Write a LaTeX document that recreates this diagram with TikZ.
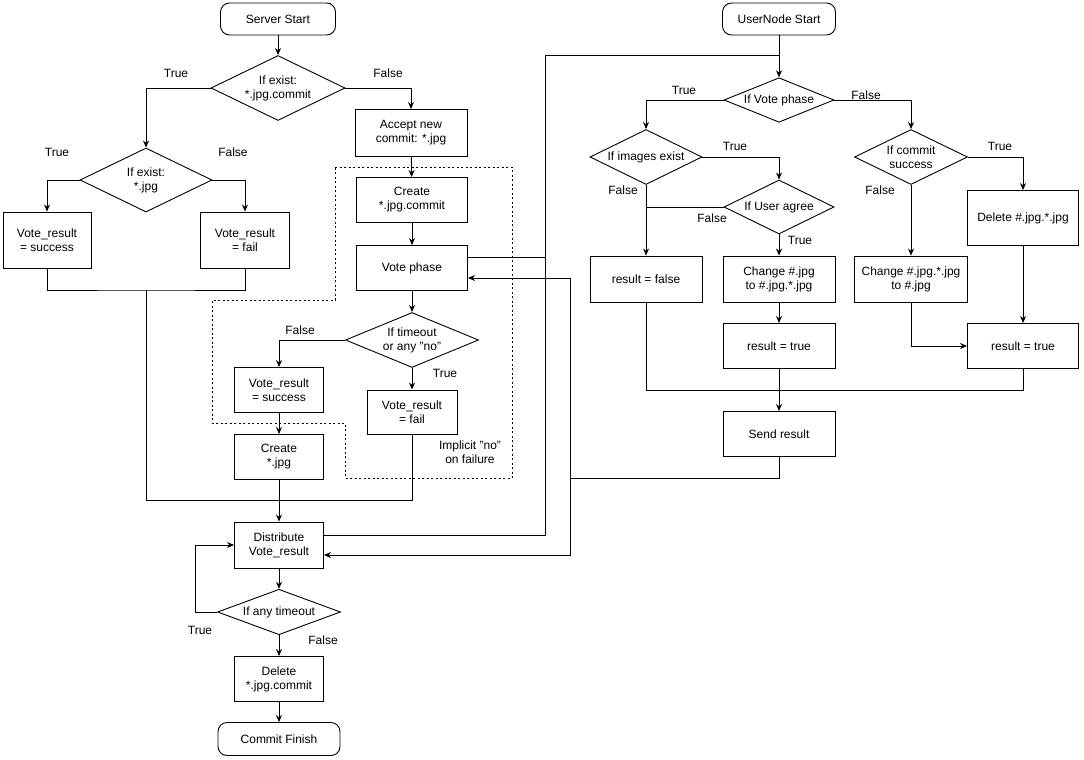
\documentclass[tikz,border=0pt]{standalone}
\usepackage{fontspec}
\setmainfont{Liberation Sans}
\usetikzlibrary{shapes.geometric,arrows.meta}
\begin{document}
\begin{tikzpicture}[x=1pt,y=-1pt,
  every node/.style={font=\fontsize{12}{14}\selectfont, align=center},
  box/.style={draw, line width=0.9pt, inner sep=0pt},
  term/.style={draw, line width=0.9pt, rounded corners=9pt, inner sep=0pt},
  dia/.style={draw, line width=0.9pt, diamond, aspect=2.1, inner sep=0pt},
  lbl/.style={font=\fontsize{12}{14}\selectfont},
  ln/.style={line width=0.9pt},
  ar/.style={line width=0.9pt, -{Stealth[length=7pt,width=6pt]}}]
\useasboundingbox (0,0) rectangle (1084,760);
% left
\node[term, minimum width=115pt, minimum height=32pt] (ss) at (278,19) {Server Start};
\node[dia, minimum width=134pt, minimum height=65pt] (d1) at (278,88) {If exist:\\*.jpg.commit};
\node[dia, minimum width=132pt, minimum height=64pt] (d2) at (146,180) {If exist:\\*.jpg};
\node[box, minimum width=88pt, minimum height=56pt] (vs1) at (47,240) {Vote\_result\\= success};
\node[box, minimum width=89pt, minimum height=56pt] (vf1) at (245,240) {Vote\_result\\= fail};
\node[box, minimum width=112pt, minimum height=47pt] (acc) at (411,133) {Accept new\\commit: *.jpg};
\node[box, minimum width=111pt, minimum height=45pt] (cc) at (412,200) {Create\\*.jpg.commit};
\node[box, minimum width=111pt, minimum height=45pt] (vp) at (412,268) {Vote phase};
\node[dia, minimum width=133pt, minimum height=55pt] (d3) at (412,340) {If timeout\\or any "no"};
\node[box, minimum width=89pt, minimum height=45pt] (vs2) at (279,390) {Vote\_result\\= success};
\node[box, minimum width=90pt, minimum height=44pt] (vf2) at (412,412) {Vote\_result\\= fail};
\node[box, minimum width=89pt, minimum height=45pt] (cj) at (279,457) {Create\\*.jpg};
\node[lbl] (imp) at (470,452) {Implicit "no"\\on failure};
\node[box, minimum width=89pt, minimum height=46pt] (dist) at (279,545) {Distribute\\Vote\_result};
\node[dia, minimum width=123pt, minimum height=43pt] (d4) at (279,612) {If any timeout};
\node[box, minimum width=89pt, minimum height=45pt] (del) at (279,679) {Delete\\*.jpg.commit};
\node[term, minimum width=122pt, minimum height=33pt] (cf) at (279,739) {Commit Finish};
% right
\node[term, minimum width=113pt, minimum height=32pt] (us) at (779,19) {UserNode Start};
\node[dia, minimum width=110pt, minimum height=41pt] (d5) at (779,100) {If Vote phase};
\node[dia, minimum width=112pt, minimum height=55pt] (d6) at (646,157) {If images exist};
\node[dia, minimum width=110pt, minimum height=54pt] (d7) at (779,207) {If User agree};
\node[dia, minimum width=113pt, minimum height=55pt] (d8) at (911,157) {If commit\\success};
\node[box, minimum width=112pt, minimum height=46pt] (rf) at (646,279) {result = false};
\node[box, minimum width=112pt, minimum height=46pt] (ch1) at (779,279) {Change \#.jpg\\to \#.jpg.*.jpg};
\node[box, minimum width=112pt, minimum height=45pt] (rt1) at (779,346) {result = true};
\node[box, minimum width=111pt, minimum height=55pt] (dl2) at (1023,218) {Delete \#.jpg.*.jpg};
\node[box, minimum width=113pt, minimum height=46pt] (ch2) at (911,279) {Change \#.jpg.*.jpg\\to \#.jpg};
\node[box, minimum width=111pt, minimum height=45pt] (rt2) at (1023,346) {result = true};
\node[box, minimum width=112pt, minimum height=45pt] (sr) at (779,434) {Send result};
% labels
\node[lbl] at (176,73) {True};
\node[lbl] at (388,73) {False};
\node[lbl] at (57,152) {True};
\node[lbl] at (233,152) {False};
\node[lbl] at (300,330) {False};
\node[lbl] at (445,373) {True};
\node[lbl] at (200,630) {True};
\node[lbl] at (323,640) {False};
\node[lbl] at (684,90) {True};
\node[lbl] at (866,95) {False};
\node[lbl] at (735,146) {True};
\node[lbl] at (623,190) {False};
\node[lbl] at (712,218) {False};
\node[lbl] at (800,240) {True};
\node[lbl] at (1000,146) {True};
\node[lbl] at (880,190) {False};
% dotted region
\draw[line width=0.9pt, dash pattern=on 2pt off 2.5pt] (335,167) -- (512,167) -- (512,478) -- (345,478) -- (345,423) -- (212,423) -- (212,300) -- (335,300) -- cycle;
% left connectors
\draw[ar] (ss) -- (d1);
\draw[ar] (d1.west) -| (d2.north);
\draw[ar] (d1.east) -| (acc.north);
\draw[ar] (d2.west) -| (vs1.north);
\draw[ar] (d2.east) -| (vf1.north);
\draw[ln] (vs1.south) |- (146,290) -| (vf1.south);
\draw[ln] (146,290) -- (146,500) -- (412,500) -- (vf2.south);
\draw[ar] (acc) -- (cc);
\draw[ar] (cc) -- (vp);
\draw[ar] (vp) -- (d3);
\draw[ar] (d3.west) -| (vs2.north);
\draw[ar] (d3.south) -- (vf2.north);
\draw[ar] (vs2) -- (cj);
\draw[ar] (cj) -- (dist);
\draw[ar] (dist) -- (d4);
\draw[ar] (d4.west) -- (195,612) |- (dist.west);
\draw[ar] (d4) -- (del);
\draw[ar] (del) -- (cf);
% cross connectors
\coordinate (j1) at (545,55);
\draw[ln] (vp.east |- 0,257) -- (545,257);
\draw[ln] (dist.east |- 0,535) -- (545,535) -- (j1) -- (779,55);
\draw[ar] (us) -- (d5);
\draw[ln] (sr.south) -- (779,478) -- (570,478);
\draw[ar] (570,478) -- (570,278) -- (vp.east |- 0,278);
\draw[ar] (570,478) -- (570,555) -- (dist.east |- 0,555);
% right connectors
\draw[ar] (d5.west) -| (d6.north);
\draw[ar] (d5.east) -| (d8.north);
\draw[ar] (d6.east) -| (d7.north);
\draw[ar] (d6.south) -- (rf.north);
\draw[ln] (d7.west) -- (646,207);
\draw[ar] (d7.south) -- (ch1.north);
\draw[ar] (ch1) -- (rt1);
\draw[ar] (d8.east) -| (dl2.north);
\draw[ar] (d8.south) -- (ch2.north);
\draw[ar] (ch2.south) |- (rt2.west);
\draw[ar] (dl2) -- (rt2);
\draw[ln] (rf.south) |- (1023,390) -- (rt2.south);
\draw[ar] (rt1) -- (sr);
\end{tikzpicture}
\end{document}
